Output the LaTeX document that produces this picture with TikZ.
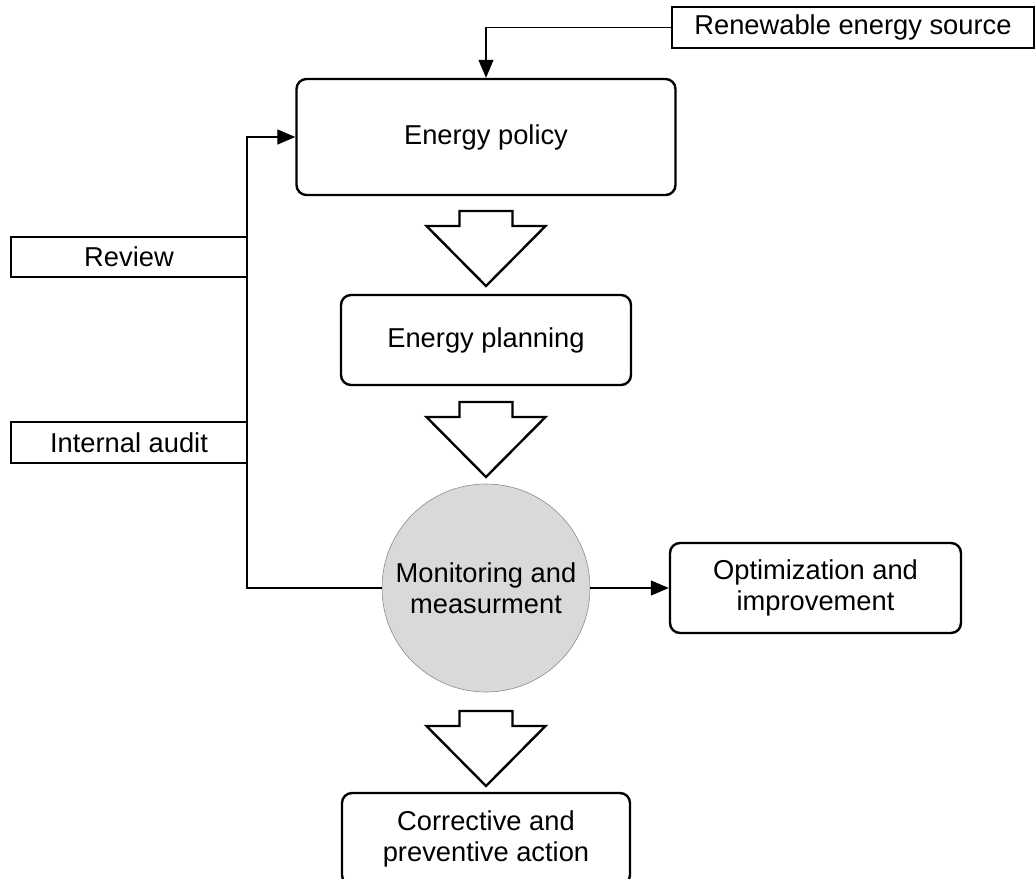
\documentclass[tikz,border=0pt]{standalone}
\usepackage{fontspec}
\setmainfont{Liberation Sans}
\usetikzlibrary{arrows.meta}

\tikzset{
  every node/.style={font=\fontsize{27.3}{31}\selectfont, align=center, inner sep=0pt},
  plainbox/.style={draw, line width=2.4pt},
  roundbox/.style={draw, line width=2.4pt, rounded corners=10pt},
  roundnode/.style={circle, fill=black!15, draw=black!45, line width=0.6pt, minimum size=208pt},
  conn/.style={line width=1.3pt, -{Triangle[length=18pt,width=15pt]}},
  blockline/.style={draw, line width=2.4pt, fill=white, line join=miter},
  pics/downarrow/.style={code={
    \path[blockline] (-26.5,0) -- (26.5,0) -- (26.5,15) -- (59.5,15)
      -- (0,75) -- (-59.5,15) -- (-26.5,15) -- cycle;
  }}
}

\begin{document}
\begin{tikzpicture}[x=1pt, y=-1pt]
  \useasboundingbox (0,0) rectangle (1035,878);
  \clip (0,0) rectangle (1035,878);

  % main chain
  \node[roundbox, minimum width=379pt, minimum height=116pt] (policy) at (486,137) {Energy policy};
  \node[roundbox, minimum width=290pt, minimum height=90pt] (planning) at (486,340) {Energy planning};
  \node[roundnode] (monitor) at (486,588) {Monitoring and\\measurment};
  \node[roundbox, minimum width=288pt, minimum height=92pt] (corrective) at (486,839) {Corrective and\\preventive action};

  % block arrows between the stages
  \pic at (486,211) {downarrow};
  \pic at (486,402) {downarrow};
  \pic at (486,711) {downarrow};

  % side boxes
  \node[plainbox, minimum width=362pt, minimum height=41pt] (renew) at (853,27.5) {Renewable energy source};
  \node[plainbox, minimum width=236pt, minimum height=40pt] (review) at (129,257) {Review};
  \node[plainbox, minimum width=236pt, minimum height=41pt] (audit) at (129,442.5) {Internal audit};
  \node[roundbox, minimum width=291pt, minimum height=90pt] (optim) at (815.5,588) {Optimization and\\improvement};

  % connectors
  \coordinate (loop) at (247,588);
  \draw[conn] (renew.west) -| (policy.north);
  \draw[conn] (monitor.west) -- (loop) |- (policy.west);
  \draw[conn] (monitor.east) -- (optim.west);
\end{tikzpicture}
\end{document}
